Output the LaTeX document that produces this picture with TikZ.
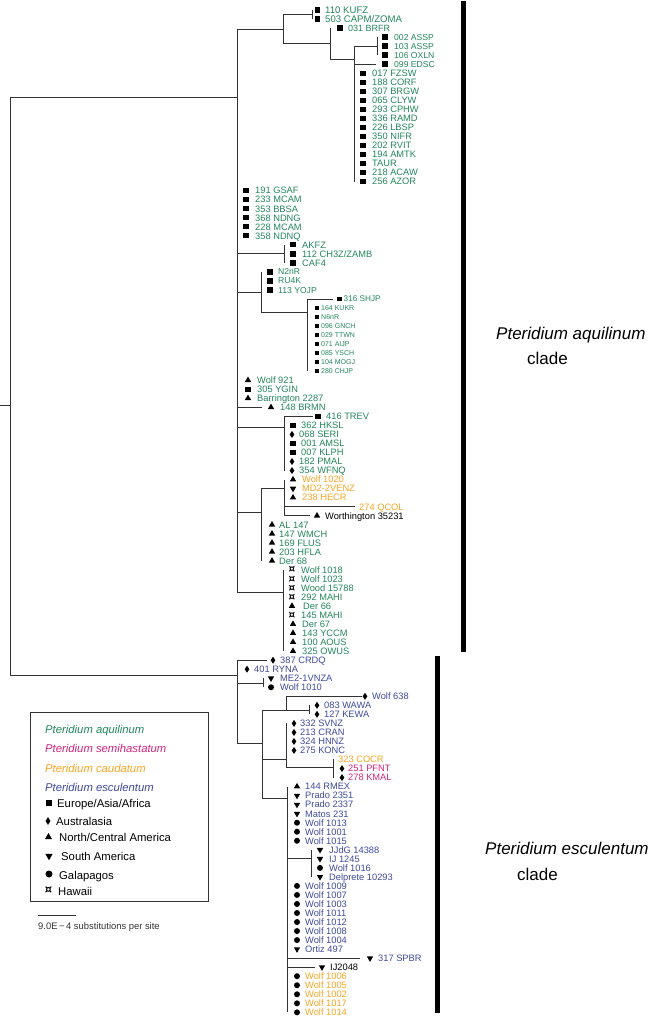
\documentclass[tikz,border=0pt]{standalone}
\usepackage{fontspec}
\setmainfont{Liberation Sans}
\newfontfamily\symf{DejaVu Sans}
\usetikzlibrary{shapes.geometric}
\definecolor{cg}{HTML}{23875C}
\definecolor{cm}{HTML}{D4237F}
\definecolor{co}{HTML}{F5A623}
\definecolor{cb}{HTML}{3F4A9C}
\definecolor{ln}{HTML}{333333}
\def\mtmkha{{\symf\bfseries\fontsize{10.5}{10.5}\selectfont ¤}}
\def\mtmkhaL{{\symf\bfseries\fontsize{11.5}{11.5}\selectfont ¤}}
\newcommand\tip[8]{%
  \node[#5] (m#1) at (#3,{ry(#2)}) {\csname mt#5\endcsname};
  \node[lab,text=#6,font=\fontsize{#7}{#7}\selectfont] (t#1) at (#4,{ry(#2)+0.36*#7}) {#8};}
\newcommand\tipn[6]{%
  \node[lab,text=#4,font=\fontsize{#5}{#5}\selectfont] (t#1) at (#3,{ry(#2)+0.36*#5}) {#6};}
\begin{document}
\begin{tikzpicture}[x=1pt,y=-1pt,
  declare function={ry(\i)=10+(\i-1)*9.03;},
  br/.style={draw=ln, line width=0.8pt},
  lab/.style={anchor=base west, inner sep=0pt},
  mk/.style={fill=black, draw=none, inner sep=0pt},
  mksq/.style={mk, rectangle, minimum size=5.4pt},
  mksqs/.style={mk, rectangle, minimum size=4.4pt},
  mkdi/.style={mk, diamond, minimum width=4.8pt, minimum height=7.2pt},
  mkup/.style={mk, regular polygon, regular polygon sides=3, minimum size=7.4pt},
  mkdn/.style={mkup, shape border rotate=180},
  mkci/.style={mk, circle, minimum size=6pt},
  mkha/.style={inner sep=0pt},
  leg/.style={anchor=base west, inner sep=0pt, font=\fontsize{11.3}{11.3}\selectfont},
  legi/.style={leg, font=\itshape\fontsize{11.3}{11.3}\selectfont},
]
\fill[white] (0,0) rectangle (667,1019);
\useasboundingbox (0,0) rectangle (667,1019);

% ---------- root ----------
\coordinate (root) at (10,405);
\coordinate (ra) at (10,97);
\coordinate (re) at (10,675);
\draw[br] (0,405) -- (root);
\draw[br] (ra) -- (re);
\draw[br] (ra) -- (237,97);
\draw[br] (re) -- (237,675);

% ---------- aquilinum ----------
\draw[br] (237,29) -- (237,592);
\draw[br] (237,29) -- (283,29);
\draw[br] (283,14.5) -- (283,43);
\draw[br] (283,14.5) -- (312,14.5);
\draw[br] (312,10) -- (312,19.03);
\draw[br] (283,43) -- (330,43);
\draw[br] (330,28.06) -- (330,59);
\draw[br] (330,59) -- (354,59);
\draw[br] (354,46.1) -- (354,181.57);
\draw[br] (354,46.1) -- (377,46.1);
\draw[br] (377,37.09) -- (377,55.15);
\draw[br] (354,64.18) -- (376,64.18);
\draw[br] (237,253.8) -- (284,253.8);
\draw[br] (284,244.78) -- (284,262.84);
\draw[br] (237,292) -- (261,292);
\draw[br] (261,271.87) -- (261,312);
\draw[br] (261,312) -- (307,312);
\draw[br] (307,298.96) -- (307,371.2);
\draw[br] (307,298.96) -- (333,298.96);
\draw[br] (237,407.32) -- (262,407.32);
\draw[br] (237,427) -- (284,427);
\draw[br] (284,416.35) -- (284,470.53);
\draw[br] (284,416.35) -- (313,416.35);
\draw[br] (237,512) -- (261,512);
\draw[br] (261,488) -- (261,560.83);
\draw[br] (261,488) -- (284,488);
\draw[br] (284,479.56) -- (284,515.68);
\draw[br] (284,506.65) -- (355,506.65);
\draw[br] (284,515.68) -- (310,515.68);
\draw[br] (237,592) -- (283,592);
\draw[br] (283,569.86) -- (283,651.13);

% ---------- esculentum ----------
\draw[br] (237,660.16) -- (237,743);
\draw[br] (237,660.16) -- (267,660.16);
\draw[br] (237,683) -- (263,683);
\draw[br] (263,678.22) -- (263,687.25);
\draw[br] (237,743) -- (262,743);
\draw[br] (262,710) -- (262,798);
\draw[br] (262,710) -- (309,710);
\draw[br] (286,696.28) -- (286,710);
\draw[br] (286,696.28) -- (362,696.28);
\draw[br] (309,705.31) -- (309,714.34);
\draw[br] (262,759) -- (286,759);
\draw[br] (286,723.37) -- (286,767);
\draw[br] (286,767) -- (333,767);
\draw[br] (333,759.49) -- (333,777.55);
\draw[br] (262,798) -- (287,798);
\draw[br] (287,786.58) -- (287,1012.33);
\draw[br] (287,858) -- (311,858);
\draw[br] (311,849.79) -- (311,876.88);
\draw[br] (287,958.15) -- (360,958.15);
\draw[br] (287,967.18) -- (315,967.18);

% ---------- tips: aquilinum ----------
\tip{1}{1}{317.5}{325}{mksq}{cg}{9.6}{110 KUFZ}
\tip{2}{2}{317.5}{325}{mksq}{cg}{9.6}{503 CAPM/ZOMA}
\tip{3}{3}{340}{348}{mksq}{cg}{9}{031 BRFR}
\tip{4}{4}{385}{394}{mksq}{cg}{8.6}{002 ASSP}
\tip{5}{5}{385}{394}{mksq}{cg}{8.6}{103 ASSP}
\tip{6}{6}{385}{394}{mksq}{cg}{8.6}{106 OXLN}
\tip{7}{7}{385}{394}{mksq}{cg}{8.6}{099 EDSC}
\tip{8}{8}{363}{372}{mksq}{cg}{9.3}{017 FZSW}
\tip{9}{9}{363}{372}{mksq}{cg}{9.3}{188 CORF}
\tip{10}{10}{363}{372}{mksq}{cg}{9.3}{307 BRGW}
\tip{11}{11}{363}{372}{mksq}{cg}{9.3}{065 CLYW}
\tip{12}{12}{363}{372}{mksq}{cg}{9.3}{293 CPHW}
\tip{13}{13}{363}{372}{mksq}{cg}{9.3}{336 RAMD}
\tip{14}{14}{363}{372}{mksq}{cg}{9.3}{226 LBSP}
\tip{15}{15}{363}{372}{mksq}{cg}{9.3}{350 NIFR}
\tip{16}{16}{363}{372}{mksq}{cg}{9.3}{202 RVIT}
\tip{17}{17}{363}{372}{mksq}{cg}{9.3}{194 AMTK}
\tip{18}{18}{363}{372}{mksq}{cg}{9.3}{TAUR}
\tip{19}{19}{363}{372}{mksq}{cg}{9.3}{218 ACAW}
\tip{20}{20}{363}{372}{mksq}{cg}{9.3}{256 AZOR}
\tip{21}{21}{246}{255}{mksq}{cg}{9.3}{191 GSAF}
\tip{22}{22}{246}{255}{mksq}{cg}{9.3}{233 MCAM}
\tip{23}{23}{246}{255}{mksq}{cg}{9.3}{353 BBSA}
\tip{24}{24}{246}{255}{mksq}{cg}{9.3}{368 NDNG}
\tip{25}{25}{246}{255}{mksq}{cg}{9.3}{228 MCAM}
\tip{26}{26}{246}{255}{mksq}{cg}{9.3}{358 NDNQ}
\tip{27}{27}{293}{302}{mksq}{cg}{9.3}{AKFZ}
\tip{28}{28}{293}{302}{mksq}{cg}{9.3}{112 CH3Z/ZAMB}
\tip{29}{29}{293}{302}{mksq}{cg}{9.3}{CAF4}
\tip{30}{30}{270}{278}{mksq}{cg}{8.6}{N2nR}
\tip{31}{31}{270}{278}{mksq}{cg}{8.6}{RU4K}
\tip{32}{32}{270}{278}{mksq}{cg}{8.6}{113 YOJP}
\tip{33}{33}{339.5}{343.5}{mksqs}{cg}{8.2}{316 SHJP}
\tip{34}{34}{317}{321}{mksqs}{cg}{7}{164 KUKR}
\tip{35}{35}{317}{321}{mksqs}{cg}{7}{N6nR}
\tip{36}{36}{317}{321}{mksqs}{cg}{7}{096 GNCH}
\tip{37}{37}{317}{321}{mksqs}{cg}{7}{029 TTWN}
\tip{38}{38}{317}{321}{mksqs}{cg}{7}{071 AIJP}
\tip{39}{39}{317}{321}{mksqs}{cg}{7}{085 YSCH}
\tip{40}{40}{317}{321}{mksqs}{cg}{7}{104 MOGJ}
\tip{41}{41}{317}{321}{mksqs}{cg}{7}{280 CHJP}
\tip{42}{42}{248}{257}{mkup}{cg}{9.3}{Wolf 921}
\tip{43}{43}{248}{257}{mksq}{cg}{9.3}{305 YGIN}
\tip{44}{44}{248}{257}{mkup}{cg}{9.3}{Barrington 2287}
\tip{45}{45}{271}{280}{mkup}{cg}{9.3}{148 BRMN}
\tip{46}{46}{318}{326}{mksq}{cg}{9.3}{416 TREV}
\tip{47}{47}{293}{301}{mksq}{cg}{9.3}{362 HKSL}
\tip{48}{48}{292}{299}{mkdi}{cg}{9.3}{068 SERI}
\tip{49}{49}{293}{301}{mksq}{cg}{9.3}{001 AMSL}
\tip{50}{50}{293}{301}{mksq}{cg}{9.3}{007 KLPH}
\tip{51}{51}{292}{299}{mkdi}{cg}{9.3}{182 PMAL}
\tip{52}{52}{292}{299}{mkdi}{cg}{9.3}{354 WFNQ}
\tip{53}{53}{293}{302}{mkup}{co}{9.3}{Wolf 1020}
\tip{54}{54}{293}{302}{mkdn}{co}{9.3}{MD2-2VENZ}
\tip{55}{55}{293}{302}{mkup}{co}{9.3}{238 HECR}
\tipn{56}{56}{359}{co}{9.3}{274 QCOL}
\tip{57}{57}{317}{325}{mkup}{black}{9.3}{Worthington 35231}
\tip{58}{58}{272}{279}{mkup}{cg}{9.3}{AL 147}
\tip{59}{59}{272}{279}{mkup}{cg}{9.3}{147 WMCH}
\tip{60}{60}{272}{279}{mkup}{cg}{9.3}{169 FLUS}
\tip{61}{61}{272}{279}{mkup}{cg}{9.3}{203 HFLA}
\tip{62}{62}{272}{279}{mkup}{cg}{9.3}{Der 68}
\tip{63}{63}{292}{301}{mkha}{cg}{9.3}{Wolf 1018}
\tip{64}{64}{292}{301}{mkha}{cg}{9.3}{Wolf 1023}
\tip{65}{65}{292}{301}{mkha}{cg}{9.3}{Wood 15788}
\tip{66}{66}{292}{301}{mkha}{cg}{9.3}{292 MAHI}
\tip{67}{67}{292}{303}{mkup}{cg}{9.3}{Der 66}
\tip{68}{68}{292}{301}{mkha}{cg}{9.3}{145 MAHI}
\tip{69}{69}{293}{302}{mkup}{cg}{9.3}{Der 67}
\tip{70}{70}{293}{302}{mkup}{cg}{9.3}{143 YCCM}
\tip{71}{71}{293}{302}{mkup}{cg}{9.3}{100 AOUS}
\tip{72}{72}{293}{302}{mkup}{cg}{9.3}{325 OWUS}

% ---------- tips: esculentum ----------
\tip{73}{73}{273}{280}{mkdi}{cb}{9.3}{387 CRDQ}
\tip{74}{74}{247}{254}{mkdi}{cb}{9.3}{401 RYNA}
\tip{75}{75}{271}{280}{mkdn}{cb}{9.3}{ME2-1VNZA}
\tip{76}{76}{271}{280}{mkci}{cb}{9.3}{Wolf 1010}
\tip{77}{77}{365}{372}{mkdi}{cb}{9.3}{Wolf 638}
\tip{78}{78}{317}{324}{mkdi}{cb}{9.3}{083 WAWA}
\tip{79}{79}{317}{324}{mkdi}{cb}{9.3}{127 KEWA}
\tip{80}{80}{294}{300}{mkdi}{cb}{9.3}{332 SVNZ}
\tip{81}{81}{294}{300}{mkdi}{cb}{9.3}{213 CRAN}
\tip{82}{82}{294}{300}{mkdi}{cb}{9.3}{324 HNNZ}
\tip{83}{83}{294}{300}{mkdi}{cb}{9.3}{275 KONC}
\tipn{84}{84}{338}{co}{9.3}{323 COCR}
\tip{85}{85}{342}{348}{mkdi}{cm}{9.3}{251 PFNT}
\tip{86}{86}{342}{348}{mkdi}{cm}{9.3}{278 KMAL}
\tip{87}{87}{297}{305}{mkup}{cb}{9.3}{144 RMEX}
\tip{88}{88}{297}{305}{mkdn}{cb}{9.3}{Prado 2351}
\tip{89}{89}{297}{305}{mkdn}{cb}{9.3}{Prado 2337}
\tip{90}{90}{297}{305}{mkdn}{cb}{9.3}{Matos 231}
\tip{91}{91}{297}{305}{mkci}{cb}{9.3}{Wolf 1013}
\tip{92}{92}{297}{305}{mkci}{cb}{9.3}{Wolf 1001}
\tip{93}{93}{297}{305}{mkci}{cb}{9.3}{Wolf 1015}
\tip{94}{94}{320}{329}{mkdn}{cb}{9.3}{JJdG 14388}
\tip{95}{95}{320}{329}{mkdn}{cb}{9.3}{IJ 1245}
\tip{96}{96}{320}{329}{mkci}{cb}{9.3}{Wolf 1016}
\tip{97}{97}{320}{329}{mkdn}{cb}{9.3}{Delprete 10293}
\tip{98}{98}{297}{305}{mkci}{cb}{9.3}{Wolf 1009}
\tip{99}{99}{297}{305}{mkci}{cb}{9.3}{Wolf 1007}
\tip{100}{100}{297}{305}{mkci}{cb}{9.3}{Wolf 1003}
\tip{101}{101}{297}{305}{mkci}{cb}{9.3}{Wolf 1011}
\tip{102}{102}{297}{305}{mkci}{cb}{9.3}{Wolf 1012}
\tip{103}{103}{297}{305}{mkci}{cb}{9.3}{Wolf 1008}
\tip{104}{104}{297}{305}{mkci}{cb}{9.3}{Wolf 1004}
\tip{105}{105}{297}{305}{mkdn}{cb}{9.3}{Ortiz 497}
\tip{106}{106}{370}{378}{mkdn}{cb}{9.3}{317 SPBR}
\tip{107}{107}{322}{330}{mkdn}{black}{9.3}{IJ2048}
\tip{108}{108}{297}{305}{mkci}{co}{9.3}{Wolf 1006}
\tip{109}{109}{297}{305}{mkci}{co}{9.3}{Wolf 1005}
\tip{110}{110}{297}{305}{mkci}{co}{9.3}{Wolf 1002}
\tip{111}{111}{297}{305}{mkci}{co}{9.3}{Wolf 1017}
\tip{112}{112}{297}{305}{mkci}{co}{9.3}{Wolf 1014}

% ---------- clade bars ----------
\fill[black] (461,1) rectangle (466,652);
\fill[black] (435,656) rectangle (440,1013);
\node[anchor=base west, inner sep=0pt, font=\itshape\fontsize{17}{17}\selectfont] (qa) at (496,339) {Pteridium aquilinum};
\node[anchor=base west, inner sep=0pt, font=\fontsize{17}{17}\selectfont] (qac) at (527,364) {clade};
\node[anchor=base west, inner sep=0pt, font=\itshape\fontsize{17}{17}\selectfont] (qe) at (485,854) {Pteridium esculentum};
\node[anchor=base west, inner sep=0pt, font=\fontsize{17}{17}\selectfont] (qec) at (517,880) {clade};

% ---------- legend ----------
\draw[line width=0.8pt, draw=ln] (30,712) rectangle (208,901);
\node[legi, text=cg] (l1) at (45,733) {Pteridium aquilinum};
\node[legi, text=cm] (l2) at (45,752) {Pteridium semihastatum};
\node[legi, text=co] (l3) at (45,772) {Pteridium caudatum};
\node[legi, text=cb] (l4) at (45,791) {Pteridium esculentum};
\node[mksq, minimum size=6pt] (k1) at (48.5,803) {};
\node[leg] (l5) at (57,807) {Europe/Asia/Africa};
\node[mkdi, minimum width=5pt, minimum height=8pt] (k2) at (48,821) {};
\node[leg] (l6) at (56,825) {Australasia};
\node[mkup, minimum size=8pt] (k3) at (48.5,837) {};
\node[leg] (l7) at (59,841) {North/Central America};
\node[mkdn, minimum size=8.5pt] (k4) at (49,856) {};
\node[leg] (l8) at (61,860) {South America};
\node[mkci, minimum size=7pt] (k5) at (49,874) {};
\node[leg] (l9) at (59,879) {Galapagos};
\node[mkha] (k6) at (48.5,890) {\mtmkhaL};
\node[leg] (l10) at (58,895) {Hawaii};

% ---------- scale bar ----------
\coordinate (s1) at (38,915);
\coordinate (s2) at (76,915);
\draw[line width=0.8pt, draw=ln] (s1) -- (s2);
\node[anchor=base west, inner sep=0pt, font=\fontsize{9.4}{9.4}\selectfont, text=ln] (sc) at (38,929) {9.0E\,−\,4 substitutions per site};
\end{tikzpicture}
\end{document}
